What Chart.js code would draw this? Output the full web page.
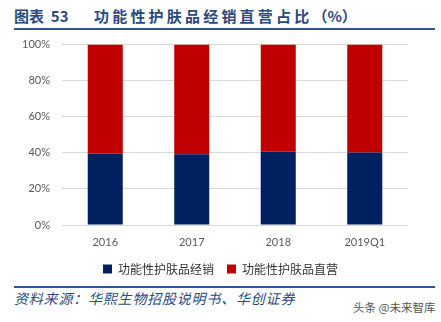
<!DOCTYPE html>
<html>
<head>
<meta charset="utf-8">
<script src="https://cdn.jsdelivr.net/npm/chart.js@4"></script>
<style>
  body { margin: 0; background: #fff; width: 441px; height: 322px; position: relative; overflow: hidden;
         font-family: "Noto Sans CJK SC", sans-serif; }
  .title { position: absolute; left: 14px; top: 5px; font-size: 15px; font-weight: bold; color: #2b4a7e;
           white-space: nowrap; }
  .title .num { display: inline-block; width: 80px; }
  .title .txt { letter-spacing: 3.2px; }
  .rule { position: absolute; left: 14px; width: 421px; height: 2px; background: #2f5597; }
  .source { position: absolute; left: 14px; top: 288px; font-size: 14px; font-style: italic; color: #2b4a7e;
            letter-spacing: 0.8px; white-space: nowrap; }
  .mark { position: absolute; left: 353px; top: 299px; font-size: 11.5px; color: #555; white-space: nowrap; }
  #wrap { position: absolute; left: 0; top: 26px; width: 441px; height: 259px; }
</style>
</head>
<body>
<div class="title"><span class="num">图表&nbsp;&nbsp;53</span><span class="txt">功能性护肤品经销直营占比</span>（%）</div>
<div class="rule" style="top:28px"></div>
<div id="wrap"><canvas id="myChart"></canvas></div>
<div class="rule" style="top:286px"></div>
<div class="source">资料来源：华熙生物招股说明书、华创证券</div>
<div class="mark">头条 @未来智库</div>

<script>
// share of distribution vs direct sales, in percent
const years = ["2016", "2017", "2018", "2019Q1"];
const distribution = [39.6, 39.2, 40.8, 40.2];
const direct = [60.4, 60.8, 59.2, 59.8];
const yTicks = [0, 20, 40, 60, 80, 100];

const tickFont = { family: "Lato, 'Noto Sans CJK SC', sans-serif", size: 11 };

new Chart("myChart", {
  type: "bar",
  data: {
    labels: years,
    datasets: [
      { label: "功能性护肤品经销", data: distribution, backgroundColor: "#002060" },
      { label: "功能性护肤品直营", data: direct, backgroundColor: "#c00000" }
    ]
  },
  options: {
    responsive: true,
    maintainAspectRatio: false,
    animation: false,
    layout: { padding: 0 },
    datasets: { bar: { categoryPercentage: 1, barPercentage: 0.405 } },
    plugins: {
      tooltip: { enabled: false },
      legend: {
        position: "bottom",
        labels: {
          boxWidth: 9, boxHeight: 9, padding: 13, color: "#333",
          font: { family: "'Noto Sans CJK SC', sans-serif", size: 12 }
        }
      }
    },
    scales: {
      x: {
        stacked: true,
        afterFit: (scale) => { scale.height = 25; },
        grid: { display: false, drawTicks: false },
        border: { display: false },
        ticks: { color: "#595959", font: tickFont, padding: 11 }
      },
      y: {
        stacked: true,
        min: 0, max: 100,
        afterFit: (scale) => { scale.width = 62; },
        afterBuildTicks: (scale) => { scale.ticks = yTicks.map(v => ({ value: v })); },
        grid: { color: "#d9d9d9", drawTicks: false },
        border: { display: false },
        ticks: { color: "#595959", font: tickFont, padding: 12, callback: v => v + "%" }
      },
      // empty right-hand strip so the plot ends short of the edge while the legend stays centred
      yRight: {
        position: "right",
        min: 0, max: 100,
        afterFit: (scale) => { scale.width = 33; },
        grid: { display: false, drawTicks: false },
        border: { display: false },
        ticks: { display: false }
      }
    }
  }
});
</script>
</body>
</html>
